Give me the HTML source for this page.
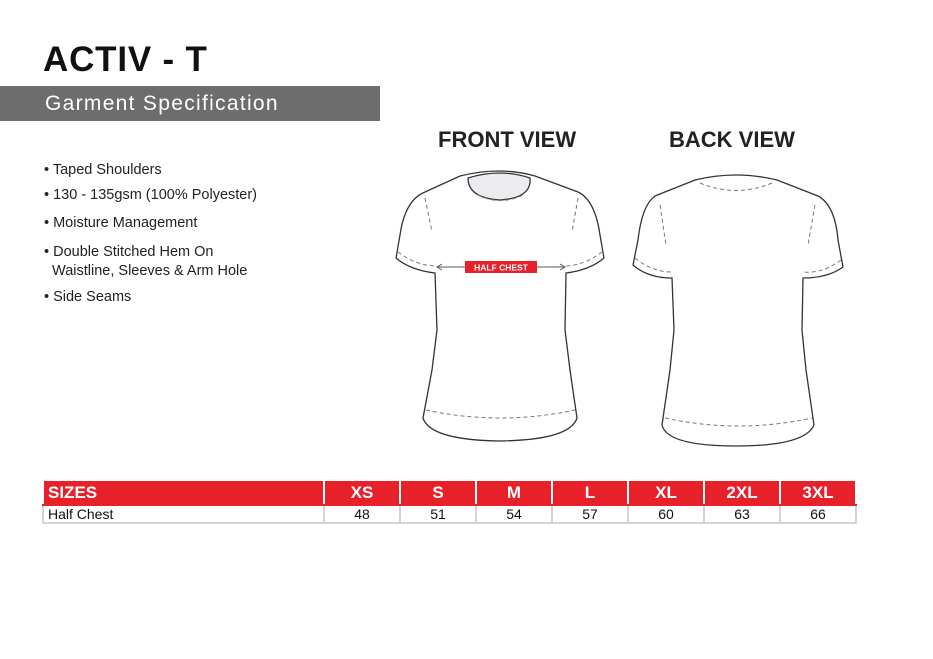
<!DOCTYPE html>
<html><head><meta charset="utf-8"><style>
body{margin:0;width:933px;height:659px;background:#fff;position:relative;overflow:hidden;font-family:"Liberation Sans",sans-serif}
.t{position:absolute;left:43px;top:40px;font-size:35px;font-weight:bold;color:#111;letter-spacing:0.8px}
.bar{position:absolute;left:0;top:86px;width:380px;height:35px;background:#6d6d6d;color:#fff;font-size:21px;line-height:35px;padding-left:45px;box-sizing:border-box;letter-spacing:1.3px}
.b{position:absolute;left:44px;font-size:14.5px;color:#222;line-height:19px}
.v{position:absolute;top:127px;font-size:22px;font-weight:bold;color:#222}
table{position:absolute;left:42px;top:479px;border-collapse:collapse;table-layout:fixed;width:815px;font-family:"Liberation Sans Narrow","Liberation Sans",sans-serif}
td{border:2px solid #d4d4d4;padding:0;text-align:center}
tr.h td{background:#e8202a;color:#fff;font-weight:bold;font-size:17px;height:23px;border-color:#fff #fff #e8202a}
tr.d td{font-size:14px;height:16px;color:#111}
</style></head><body>
<div class="t">ACTIV - T</div>
<div class="bar">Garment Specification</div>
<div class="b" style="top:161px">• Taped Shoulders</div>
<div class="b" style="top:186px">• 130 - 135gsm (100% Polyester)</div>
<div class="b" style="top:214px">• Moisture Management</div>
<div class="b" style="top:243px">• Double Stitched Hem On<br>&nbsp;&nbsp;Waistline, Sleeves &amp; Arm Hole</div>
<div class="b" style="top:288px">• Side Seams</div>
<div class="v" style="left:438px">FRONT VIEW</div>
<div class="v" style="left:669px">BACK VIEW</div>
<svg width="933" height="659" style="position:absolute;left:0;top:0" fill="none" stroke="#333" stroke-width="1.3">
<path d="M460,176 Q500,166 535,176 L578,192 Q595,200 600,235 L604,258 Q590,270 566,273 L565,330 L570,370 L577,418 Q570,440 500,441 Q430,440 423,418 L432,370 L437,330 L435,273 Q410,270 396,258 L400,235 Q405,200 425,192 Z" fill="#fff"/>
<path d="M468,178 Q500,168 530,178 Q532,198 500,200 Q468,198 468,178 Z" fill="#ececf0"/>
<g stroke="#777" stroke-dasharray="4,3" stroke-width="1">
<path d="M478,195 Q500,206 523,195"/><path d="M425,198 L432,232"/><path d="M578,198 L572,232"/>
<path d="M398,252 Q415,265 435,266"/><path d="M602,252 Q585,265 566,266"/>
<path d="M426,410 Q500,426 575,410"/>
</g>
<path d="M695,180 Q736,170 777,180 L818,196 Q835,205 838,240 L843,267 Q828,278 803,278 L802,330 L806,370 L814,425 Q805,446 736,446 Q667,446 662,425 L670,370 L674,330 L672,278 Q648,278 633,265 L638,240 Q642,205 655,196 Z" fill="#fff"/>
<g stroke="#777" stroke-dasharray="4,3" stroke-width="1">
<path d="M700,183 Q736,198 772,183"/><path d="M660,205 L666,245"/><path d="M815,205 L808,245"/>
<path d="M635,258 Q652,272 672,272"/><path d="M841,260 Q822,274 803,272"/>
<path d="M665,418 Q738,434 812,418"/>
</g>
<g stroke="#555" stroke-width="1"><path d="M437,267 L565,267"/><path d="M442,264 L437,267 L442,270"/><path d="M560,264 L565,267 L560,270"/></g>
<rect x="465" y="261" width="72" height="12" fill="#e8202a" stroke="none"/>
<text x="501" y="270.5" fill="#fff" stroke="none" font-size="8.5" font-weight="bold" text-anchor="middle" font-family="Liberation Sans Narrow, Liberation Sans, sans-serif">HALF CHEST</text>
</svg>
<table>
<tr class="h"><td style="width:275px;text-align:left;padding-left:4px">SIZES</td><td>XS</td><td>S</td><td>M</td><td>L</td><td>XL</td><td>2XL</td><td>3XL</td></tr>
<tr class="d"><td style="text-align:left;padding-left:4px">Half Chest</td><td>48</td><td>51</td><td>54</td><td>57</td><td>60</td><td>63</td><td>66</td></tr>
</table>
</body></html>
